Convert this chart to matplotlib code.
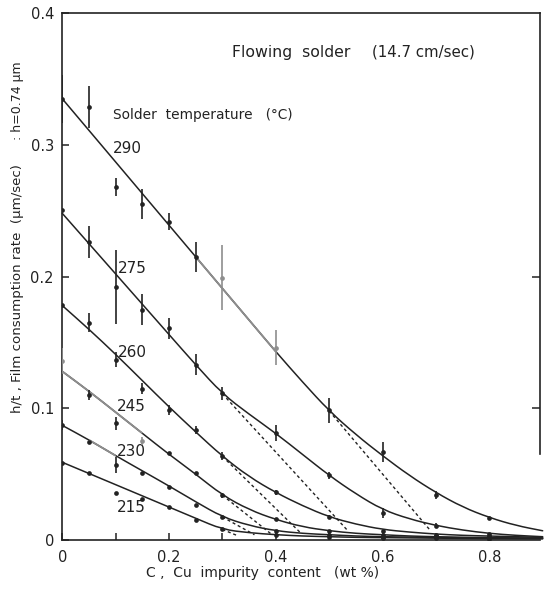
import matplotlib
matplotlib.use("Agg")
import matplotlib.pyplot as plt
from matplotlib.path import Path
from matplotlib.patches import PathPatch

# ---- measured film consumption rate h/t (um/sec) vs Cu content (wt %) ----
conc = [0.0, 0.05, 0.1, 0.15, 0.2, 0.25, 0.3, 0.4, 0.5, 0.6, 0.7, 0.8]

rate_290 = [0.335, 0.329, 0.268, 0.255, 0.2417, 0.215, 0.199, 0.1458, 0.0987, 0.067, 0.034, 0.0165]
err_290 = [0.018, 0.016, 0.007, 0.0115, 0.0066, 0.0114, 0.0247, 0.0133, 0.0095, 0.0076, 0.003, 0.0]

rate_275 = [0.2506, 0.2265, 0.192, 0.175, 0.1607, 0.133, 0.1114, 0.081, 0.049, 0.0205, 0.011, 0.0045]
err_275 = [0.0, 0.012, 0.028, 0.012, 0.008, 0.008, 0.005, 0.006, 0.003, 0.004, 0.002, 0.0]

rate_260 = [0.1784, 0.165, 0.137, 0.115, 0.0987, 0.0835, 0.0635, 0.0363, 0.0175, 0.007, 0.004, 0.003]
err_260 = [0.0, 0.007, 0.006, 0.004, 0.004, 0.003, 0.003, 0.002, 0.0015, 0.0, 0.0, 0.0]

rate_245 = [0.136, 0.110, 0.0886, 0.0754, 0.0663, 0.0506, 0.034, 0.0157, 0.007, 0.004, 0.003, 0.002]
err_245 = [0.01, 0.004, 0.005, 0.003, 0.0, 0.0, 0.002, 0.0, 0.0, 0.0, 0.0, 0.0]

rate_230 = [0.0873, 0.0742, 0.057, 0.0506, 0.0405, 0.0266, 0.0175, 0.0065, 0.004, 0.0025, 0.002, 0.0015]
err_230 = [0.004, 0.0, 0.0063, 0.0, 0.0, 0.0, 0.0, 0.0, 0.0, 0.0, 0.0, 0.0]

rate_215 = [0.0587, 0.0506, 0.0354, 0.031, 0.0253, 0.0152, 0.008, 0.0038, 0.0022, 0.0015, 0.0012, 0.001]
err_215 = [0.0] * 12

# ---- fitted curves ----
fit_x = [0.0, 0.05, 0.1, 0.15, 0.2, 0.25, 0.3, 0.35, 0.4, 0.45,
         0.5, 0.55, 0.6, 0.65, 0.7, 0.75, 0.8, 0.85, 0.9]
fit_290 = [0.335, 0.311, 0.287, 0.263, 0.239, 0.215, 0.191, 0.167, 0.143, 0.120,
           0.098, 0.080, 0.064, 0.049, 0.036, 0.025, 0.017, 0.011, 0.007]
fit_275 = [0.248, 0.225, 0.202, 0.179, 0.156, 0.133, 0.111, 0.0955, 0.081, 0.065,
           0.049, 0.035, 0.023, 0.016, 0.011, 0.0075, 0.005, 0.0035, 0.0025]
fit_260 = [0.178, 0.160, 0.141, 0.121, 0.101, 0.082, 0.0635, 0.048, 0.036, 0.026,
           0.0175, 0.012, 0.008, 0.006, 0.0045, 0.0035, 0.003, 0.0025, 0.002]
fit_245 = [0.128, 0.113, 0.097, 0.081, 0.065, 0.050, 0.034, 0.023, 0.0155, 0.010,
           0.007, 0.005, 0.004, 0.003, 0.0025, 0.002, 0.0018, 0.0016, 0.0015]
fit_230 = [0.087, 0.076, 0.064, 0.0525, 0.041, 0.029, 0.0175, 0.011, 0.007, 0.005,
           0.004, 0.003, 0.0025, 0.0022, 0.002, 0.0018, 0.0015, 0.0012, 0.001]
fit_215 = [0.059, 0.0505, 0.042, 0.0335, 0.025, 0.0165, 0.008, 0.0055, 0.004, 0.003,
           0.0025, 0.002, 0.0018, 0.0016, 0.0014, 0.0012, 0.001, 0.001, 0.001]

# linear extrapolations (dotted): start and end of each
extrap_290 = [(0.5, 0.098), (0.69, 0.007)]
extrap_275 = [(0.3, 0.111), (0.535, 0.007)]
extrap_260 = [(0.3, 0.0635), (0.445, 0.006)]
extrap_245 = [(0.3, 0.034), (0.39, 0.005)]
extrap_230 = [(0.3, 0.0175), (0.36, 0.004)]
extrap_215 = [(0.3, 0.008), (0.33, 0.003)]

temperatures = ["290", "275", "260", "245", "230", "215"]
label_pos = [(0.095, 0.297), (0.104, 0.2058), (0.104, 0.1422),
             (0.102, 0.1017), (0.102, 0.0670), (0.102, 0.0245)]

series = [
    (rate_290, err_290, fit_290, extrap_290),
    (rate_275, err_275, fit_275, extrap_275),
    (rate_260, err_260, fit_260, extrap_260),
    (rate_245, err_245, fit_245, extrap_245),
    (rate_230, err_230, fit_230, extrap_230),
    (rate_215, err_215, fit_215, extrap_215),
]

# faded (lighter) parts of some curves: fit-knot span and point indices
faded_span = {"290": (5, 8), "245": (0, 3), "230": (1, 2)}
faded_points = {"290": [6, 7], "245": [0, 3]}

INK = "#222222"
FADED = "#8e8e8e"


def smooth_path(xs, ys):
    pts = list(zip(xs, ys))
    if len(pts) == 2:
        return Path(pts, [Path.MOVETO, Path.LINETO])
    verts = [pts[0]]
    codes = [Path.MOVETO]
    mid = lambda a, b: ((a[0] + b[0]) / 2, (a[1] + b[1]) / 2)
    verts.append(mid(pts[0], pts[1]))
    codes.append(Path.LINETO)
    for i in range(1, len(pts) - 1):
        verts += [pts[i], mid(pts[i], pts[i + 1])]
        codes += [Path.CURVE3, Path.CURVE3]
    verts.append(pts[-1])
    codes.append(Path.LINETO)
    return Path(verts, codes)


fig = plt.figure(figsize=(5.44, 5.91), dpi=100)
ax = fig.add_axes([62.3 / 544, 1 - 540 / 591, (540 - 62.3) / 544, (540 - 13.2) / 591])
ax.set_xlim(0, 0.895)
ax.set_ylim(0, 0.4)

for name, (rate, err, fit, extrap) in zip(temperatures, series):
    ax.add_patch(PathPatch(smooth_path(fit_x, fit), fill=False, edgecolor=INK,
                           lw=1.1, capstyle="round", clip_on=False, zorder=2))
    if name in faded_span:
        a, b = faded_span[name]
        ax.add_patch(PathPatch(smooth_path(fit_x[a:b + 1], fit[a:b + 1]), fill=False,
                               edgecolor=FADED, lw=1.3, zorder=3))
    (x0, y0), (x1, y1) = extrap
    ax.plot([x0, x1], [y0, y1], color=INK, lw=1.0, dashes=(2.2, 2.0), zorder=2)
    faded = faded_points.get(name, [])
    for i, (c, r, e) in enumerate(zip(conc, rate, err)):
        col = FADED if i in faded else INK
        if e > 0:
            ax.errorbar([c], [r], yerr=[e], fmt="none", ecolor=col, elinewidth=1.2,
                        capsize=0, zorder=4)
        ax.plot([c], [r], "o", ms=3.4, color=col, mec="none", zorder=5)

for name, (lx, ly) in zip(temperatures, label_pos):
    ax.text(lx, ly, name, fontsize=11, color=INK, ha="left", va="center")

ax.text(0.318, 0.3705, "Flowing  solder", fontsize=11.3,
        color=INK, ha="left", va="center")
ax.text(0.58, 0.3705, "(14.7 cm/sec)", fontsize=10.8,
        color=INK, ha="left", va="center")
ax.text(0.095, 0.3227, "Solder  temperature   (\u00b0C)", fontsize=9.9,
        color=INK, ha="left", va="center")

# axes styling
for s in ["left", "bottom", "top", "right"]:
    ax.spines[s].set_color(INK)
    ax.spines[s].set_linewidth(1.2)
ax.spines["right"].set_bounds(0.065, 0.4)

ax.set_xticks([0, 0.2, 0.4, 0.6, 0.8])
ax.set_xticklabels(["0", "0.2", "0.4", "0.6", "0.8"])
ax.set_xticks([0.1, 0.3, 0.5, 0.7], minor=True)
ax.set_yticks([0, 0.1, 0.2, 0.3, 0.4])
ax.set_yticklabels(["0", "0.1", "0.2", "0.3", "0.4"])
ax.yaxis.remove_overlapping_locs = False
ax.set_yticks([0.1, 0.2], minor=True)
ax.tick_params(which="both", direction="in", length=5, width=1.1, color=INK,
               labelsize=10.5, labelcolor=INK, top=False, right=False)
ax.tick_params(axis="y", which="minor", left=False, right=True, length=6)
ax.tick_params(axis="x", pad=7)
ax.tick_params(axis="y", pad=6)

fig.text(0.482, 1 - 573 / 591, "C ,  Cu  impurity  content   (wt %)", fontsize=10,
         color=INK, ha="center", va="center")
fig.text(0.033, 1 - 413 / 591, "h/t , Film consumption rate  (\u03bcm/sec)",
         fontsize=9.6, color=INK, rotation=90, ha="center", va="bottom")
fig.text(0.033, 1 - 140 / 591, ": h=0.74 \u03bcm", fontsize=9,
         color=INK, rotation=90, ha="center", va="bottom")

fig.savefig("out.png", dpi=100, facecolor="white")
